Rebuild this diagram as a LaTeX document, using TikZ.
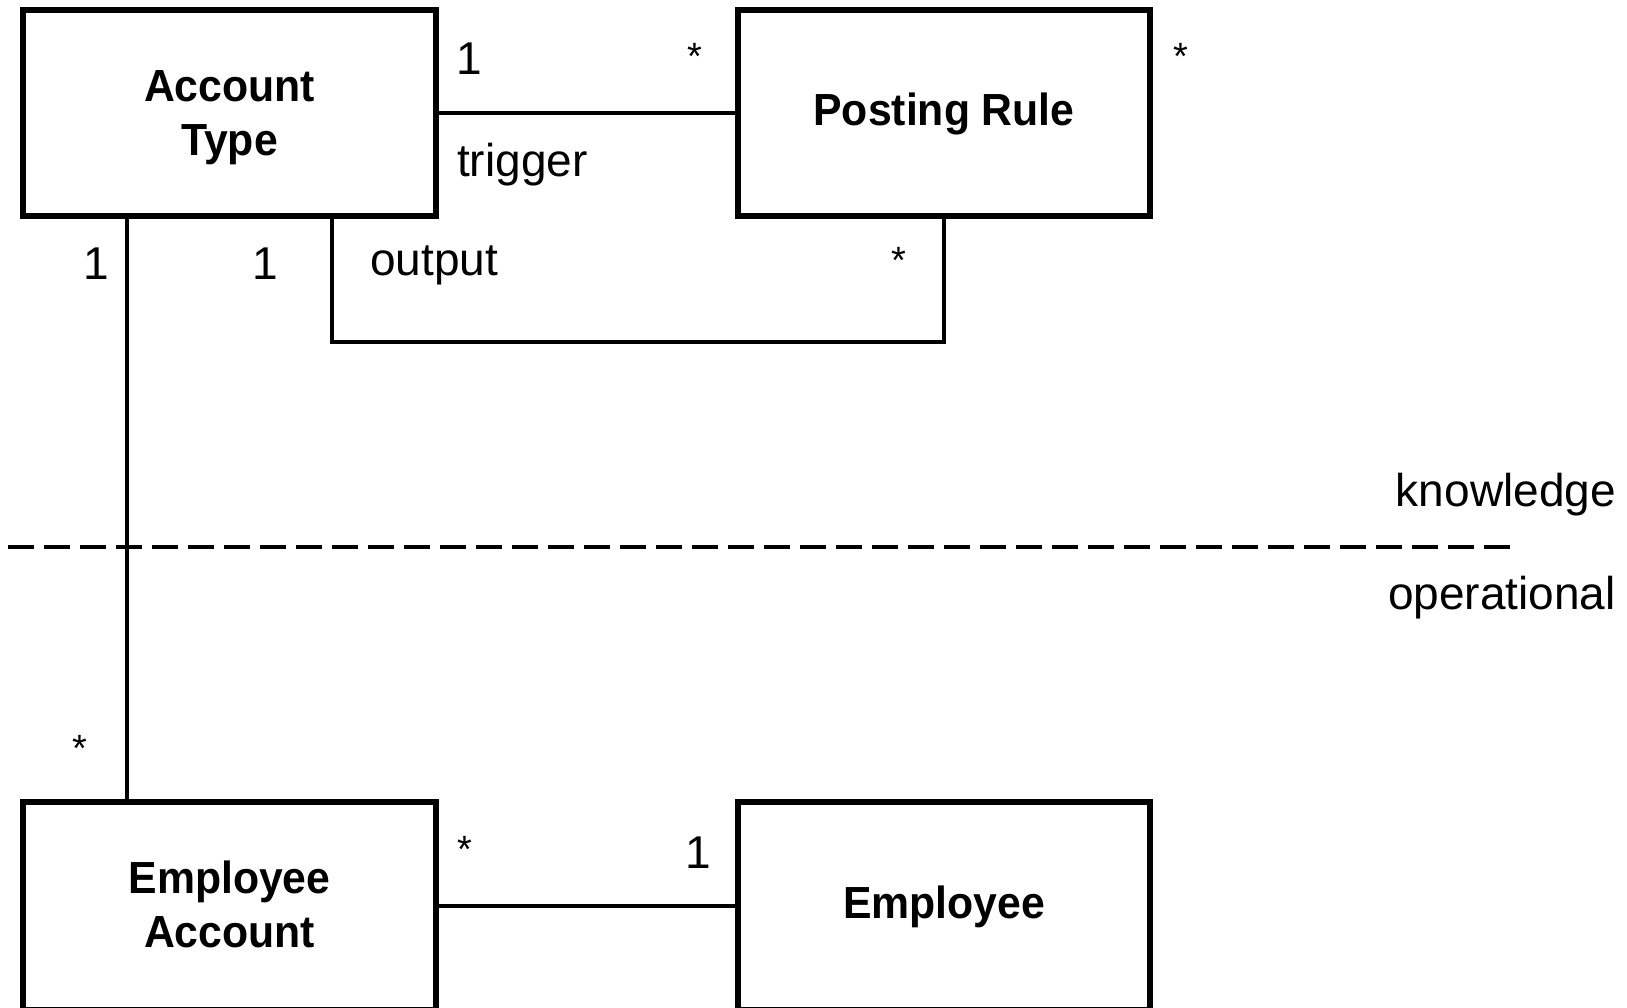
\documentclass[tikz,border=0pt]{standalone}
\usepackage{fontspec}
\setmainfont{Liberation Sans}
\newfontfamily\titlefont[FakeStretch=0.95]{Liberation Sans}
\begin{document}
\begin{tikzpicture}[x=1pt,y=-1pt,
  cls/.style={draw, line width=5.5pt, minimum width=413pt, minimum height=206pt,
    inner sep=0pt, outer sep=0pt, align=center,
    font=\titlefont\bfseries\fontsize{45}{54}\selectfont},
  conn/.style={line width=4pt},
  lbl/.style={font=\fontsize{46}{55}\selectfont, inner sep=0pt},
  star/.style={font=\fontsize{38}{46}\selectfont, inner sep=0pt},
  divider/.style={line width=4pt, dash pattern=on 26pt off 10pt}]
\useasboundingbox (0,0) rectangle (1627,1007);
\clip (0,0) rectangle (1627,1007);
% classes
\node[cls, text height=94pt, text depth=10pt] (at) at (229.5,113) {Account\\Type};
\node[cls, minimum width=412pt, text height=34pt, text depth=10pt] (pr) at (944,113) {Posting Rule};
\node[cls, minimum height=208pt, text height=92pt, text depth=10pt] (ea) at (229.5,906) {Employee\\Account};
\node[cls, minimum width=412pt, minimum height=208pt, text height=34pt, text depth=10pt] (em) at (944,906) {Employee};
% helper coordinates
\coordinate (oL) at (332,342);
\coordinate (oR) at (944,342);
\coordinate (vx) at (127,0);
\coordinate (dL) at (8,547);
\coordinate (dR) at (1510,547);
% connectors
\draw[conn] (at.east) -- (pr.west);
\draw[conn] (at.south -| oL) -- (oL) -- (oR) -- (pr.south);
\draw[conn] (at.south -| vx) -- (ea.north -| vx);
\draw[conn] (ea.east) -- (em.west);
\draw[divider] (dL) -- (dR);
% labels
\node[lbl, anchor=base] (m1) at (469,74.5) {1};
\node[star, anchor=base] (m2) at (695,69) {*};
\node[star, anchor=base] (m3) at (1181,69) {*};
\node[lbl, anchor=base west] (trig) at (457,176) {trigger};
\node[lbl, anchor=base] (m4) at (96,279) {1};
\node[lbl, anchor=base] (m5) at (265,279) {1};
\node[lbl, anchor=base west] (outp) at (370,275) {output};
\node[star, anchor=base] (m6) at (899,273) {*};
\node[lbl, anchor=base east] (know) at (1616,506) {knowledge};
\node[lbl, anchor=base east] (oper) at (1616,609) {operational};
\node[star, anchor=base] (m7) at (80,761) {*};
\node[star, anchor=base] (m8) at (465,862) {*};
\node[lbl, anchor=base] (m9) at (698,868.5) {1};
\end{tikzpicture}
\end{document}
